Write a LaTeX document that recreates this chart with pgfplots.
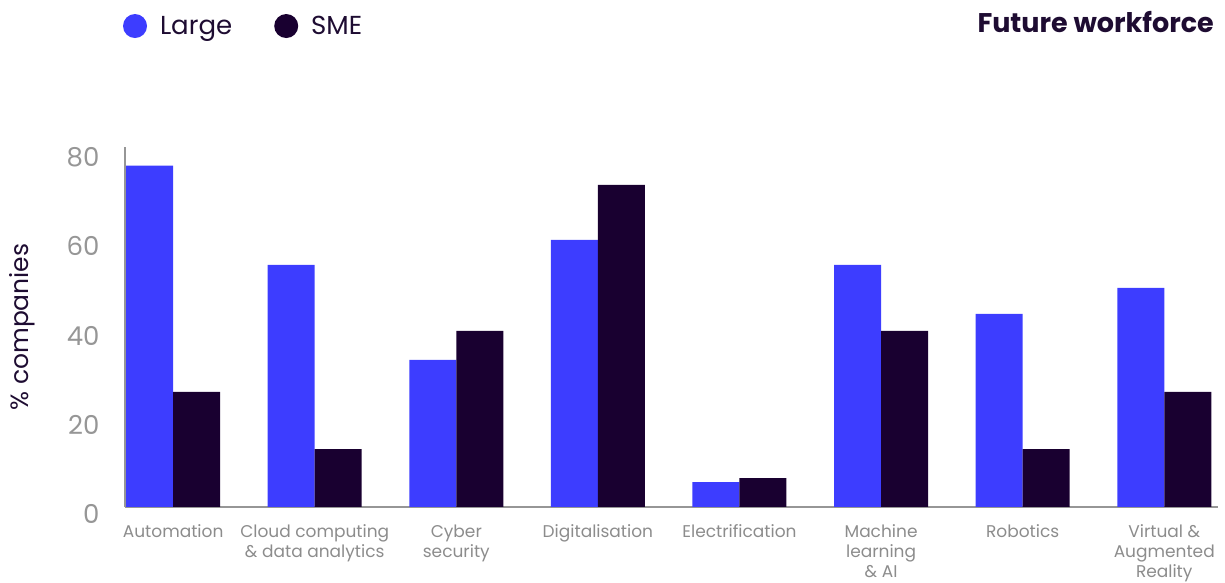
\documentclass[border=0pt]{standalone}
\usepackage{pgfplots}
\pgfplotsset{compat=1.18}
\usepackage{fontspec}
\setmainfont{Poppins}
\definecolor{cLarge}{RGB}{61,61,255}
\definecolor{cSME}{RGB}{25,0,48}
\definecolor{cText}{RGB}{30,12,50}
\definecolor{cGray}{RGB}{150,150,150}
\definecolor{cLab}{RGB}{140,140,140}
\begin{document}
\begin{tikzpicture}[x=1pt,y=1pt]
\path[use as bounding box] (0,0) rectangle (1225,583);
\begin{axis}[
  at={(125pt,76pt)}, anchor=south west,
  scale only axis, width=1093pt, height=360pt,
  ybar=0pt, bar width=47pt,
  xmin=-0.34, xmax=7.38, ymin=0, ymax=80.7,
  axis x line*=bottom, axis y line*=left,
  axis line style={cGray, line width=1.6pt},
  major tick length=0pt,
  xtick={0,...,7},
  xticklabels={Automation, {Cloud computing\\\& data analytics}, {Cyber\\security}, Digitalisation, Electrification, {Machine\\learning\\\& AI}, Robotics, {Virtual \&\\Augmented\\Reality}},
  xticklabel style={align=center, font=\fontsize{17}{20}\selectfont, text=cLab, yshift=-14pt},
  ytick={0,20,...,80},
  yticklabel style={font=\fontsize{26}{30}\selectfont, text=cGray, xshift=-22pt, yshift=-7pt},
  /pgf/number format/assume math mode=true,
  ylabel={\% companies},
  ylabel style={at={(axis description cs:-0.094,0.5)}, anchor=center, font=\fontsize{25}{30}\selectfont, text=cText},
  legend columns=2,
  legend style={at={(axis description cs:-0.002,1.336)}, anchor=west, draw=none, fill=none,
    font=\fontsize{26}{30}\selectfont, text=cText, inner sep=0pt,
    /tikz/every even column/.append style={column sep=40pt}},
  legend image code/.code={\fill[#1, draw=none] (12pt,0pt) circle (12pt); \path (35pt,0pt);},
]
\addplot[fill=cLarge, draw=none] coordinates {
  (0,76.5) (1,54.3) (2,33.0) (3,59.9) (4,5.6) (5,54.3) (6,43.3) (7,49.1)};
\addlegendentry{Large}
\addplot[fill=cSME, draw=none] coordinates {
  (0,25.8) (1,13.0) (2,39.5) (3,72.2) (4,6.5) (5,39.5) (6,13.0) (7,25.8)};
\addlegendentry{SME}
\end{axis}
\node[anchor=base east, inner sep=0pt, text=cText, font=\fontsize{27}{30}\selectfont\bfseries] at (1214,550) {Future workforce};
\end{tikzpicture}
\end{document}
